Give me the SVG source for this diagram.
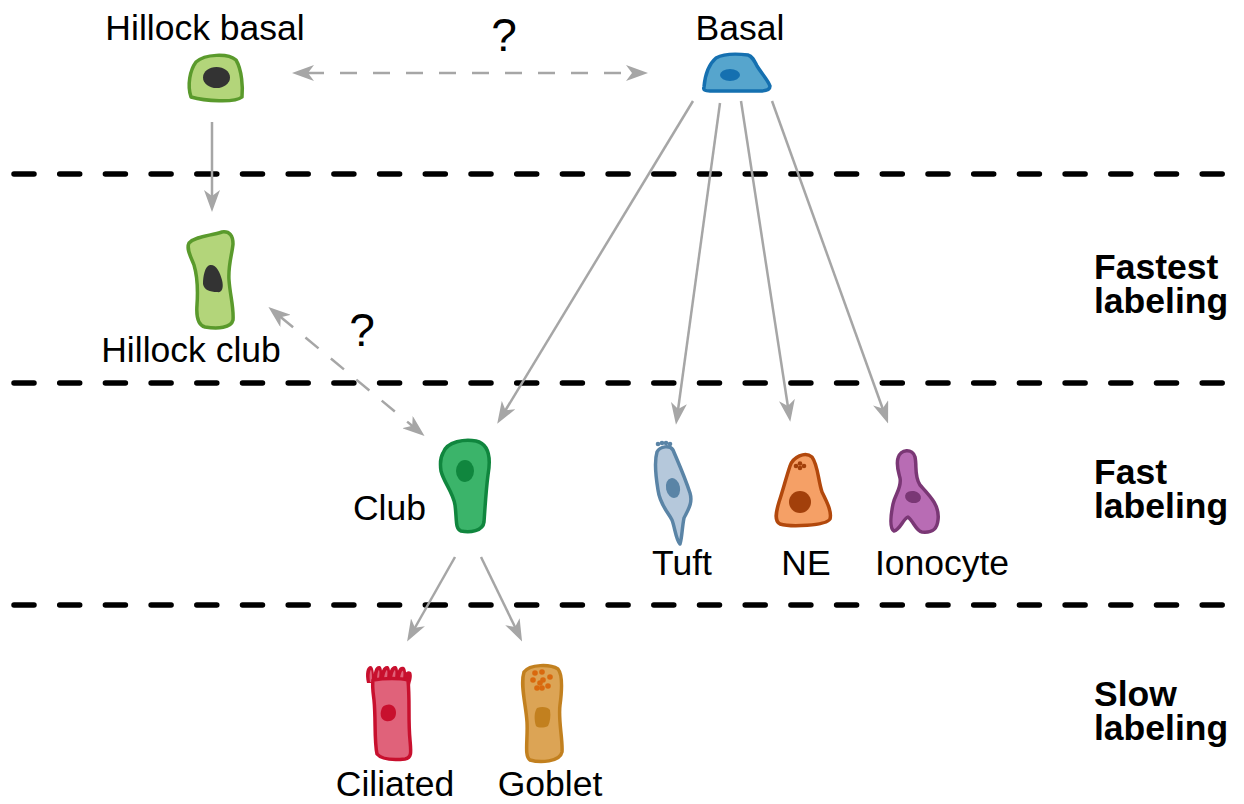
<svg xmlns="http://www.w3.org/2000/svg" width="1244" height="804" viewBox="0 0 1244 804">
  <defs>
    <marker id="head" viewBox="0 0 22 16" refX="7" refY="8" markerWidth="22" markerHeight="16" markerUnits="userSpaceOnUse" orient="auto-start-reverse">
      <path d="M0,0 L22,8 L0,16 L6,8 Z" fill="#a6a6a6"/>
    </marker>
  </defs>
  <style>
    text { font-family: "Liberation Sans", Arial, Helvetica, sans-serif; fill: #000; }
    .lbl { font-size: 35.5px; text-anchor: middle; }
    .q { font-size: 46px; text-anchor: middle; }
    .band { font-size: 35.5px; font-weight: bold; }
    .sep { stroke: #000; stroke-width: 5.5; stroke-linecap: round; stroke-dasharray: 20 25.7; fill: none; }
    .arr { stroke: #a6a6a6; stroke-width: 2.5; fill: none; marker-end: url(#head); }
    .arr2 { stroke: #a6a6a6; stroke-width: 2.5; fill: none; stroke-dasharray: 17 16; marker-start: url(#head); marker-end: url(#head); }
    .cell { stroke-width: 3.5; stroke-linejoin: round; }
  </style>

  <!-- band separators -->
  <g id="separators">
    <line class="sep" x1="14" y1="174" x2="1235" y2="174"/>
    <line class="sep" x1="14" y1="383" x2="1235" y2="383"/>
    <line class="sep" x1="14" y1="605" x2="1235" y2="605"/>
  </g>

  <!-- band labels -->
  <g id="band-labels">
    <text class="band" x="1094" y="279"><tspan x="1094">Fastest</tspan><tspan x="1094" dy="34">labeling</tspan></text>
    <text class="band" x="1094" y="484"><tspan x="1094">Fast</tspan><tspan x="1094" dy="34">labeling</tspan></text>
    <text class="band" x="1094" y="706"><tspan x="1094">Slow</tspan><tspan x="1094" dy="34">labeling</tspan></text>
  </g>

  <!-- lineage connectors -->
  <g id="connectors">
    <line class="arr" x1="212" y1="122" x2="212" y2="197"/>
    <line class="arr2" x1="307" y1="73" x2="633" y2="73"/>
    <line class="arr2" x1="280" y1="316.5" x2="413" y2="426.5"/>
    <line class="arr" x1="693" y1="101" x2="505" y2="411"/>
    <line class="arr" x1="720" y1="103" x2="678" y2="410"/>
    <line class="arr" x1="741" y1="101" x2="788" y2="407"/>
    <line class="arr" x1="772" y1="101" x2="883" y2="409.5"/>
    <line class="arr" x1="455" y1="557" x2="414.5" y2="628.5"/>
    <line class="arr" x1="481" y1="557" x2="515.5" y2="628"/>
    <text class="q" x="504" y="51">?</text>
    <text class="q" x="362" y="346">?</text>
  </g>

  <g id="hillock-basal">
    <path class="cell" d="M196,62 C205,54 228,53 236,60 C242,70 243,88 242,97 C235,103 205,101 191,97 C187,85 190,70 196,62 Z" fill="#b3d57a" stroke="#5a9a2c"/>
    <ellipse cx="216.5" cy="77.5" rx="13.5" ry="10.5" fill="#333"/>
    <text class="lbl" x="205" y="40">Hillock basal</text>
  </g>

  <g id="basal">
    <path class="cell" d="M704,87 C705,75 709,64 716,58 C725,53 740,54 748,55 C752,56 754,60 757,66 C762,74 768,80 770,86 C770,90 766,91 760,91 L710,91 C705,91 703,90 704,87 Z" fill="#56a5cd" stroke="#1570b0"/>
    <ellipse cx="730" cy="75" rx="10" ry="6" fill="#1570b0"/>
    <text class="lbl" x="740" y="40">Basal</text>
  </g>

  <g id="hillock-club">
    <path class="cell" d="M189,243 C196,236 210,236 222,232 C230,231 233,236 233,244 C232,255 228,265 229,280 C230,295 234,308 233,320 C231,328 218,329 205,327 C198,325 196,318 197,305 C198,290 197,275 194,265 C191,257 186,249 189,243 Z" fill="#b3d57a" stroke="#5a9a2c"/>
    <path d="M210,265 C216,264 220,272 222,280 C224,288 222,293 217,292 C210,292 204,290 203,284 C203,276 205,266 210,265 Z" fill="#333"/>
    <text class="lbl" x="191" y="362">Hillock club</text>
  </g>

  <g id="club">
    <path class="cell" d="M443,453 C447,441 465,439 476,441 C489,444 491,458 488,475 C486,490 485,508 484,522 C483,531 470,533 461,531 C455,529 457,520 455,505 C453,492 444,483 441,471 C440,464 440,458 443,453 Z" fill="#3bb46a" stroke="#10863e"/>
    <ellipse cx="465" cy="471" rx="9" ry="11" fill="#10863e"/>
    <text class="lbl" x="426" y="520" style="text-anchor:end">Club</text>
  </g>

  <g id="tuft">
    <g fill="#5a84a6">
      <circle cx="658" cy="444" r="2.3"/>
      <circle cx="662" cy="443" r="2.3"/>
      <circle cx="666" cy="443" r="2.3"/>
      <circle cx="670" cy="444" r="2.3"/>
    </g>
    <path class="cell" d="M657,452 C660,446 670,445 673,450 C678,462 684,475 690,493 C693,503 688,510 684,518 C682,528 682,538 680,544 C676,540 675,528 672,520 C668,512 660,505 658,490 C656,478 654,462 657,452 Z" fill="#b5c8db" stroke="#5a84a6"/>
    <ellipse cx="673" cy="488" rx="7" ry="10" fill="#5a84a6" transform="rotate(-12 673 488)"/>
    <text class="lbl" x="682" y="575">Tuft</text>
  </g>

  <g id="ne">
    <path class="cell" d="M790,466 C793,457 805,451 812,457 C818,465 818,480 822,492 C827,502 832,512 830,519 C826,526 790,527 780,524 C774,521 776,512 779,502 C783,490 786,478 790,466 Z" fill="#f5a066" stroke="#b2480c"/>
    <circle cx="800" cy="502" r="11" fill="#a2400b"/>
    <g fill="#a2400b">
      <circle cx="796" cy="466" r="2.3"/>
      <circle cx="800" cy="463.5" r="2.3"/>
      <circle cx="804" cy="466" r="2.3"/>
      <circle cx="800" cy="468" r="2.3"/>
    </g>
    <text class="lbl" x="806" y="575">NE</text>
  </g>

  <g id="ionocyte">
    <path class="cell" d="M898,458 C900,449 913,448 915,457 C917,466 914,476 920,485 C929,495 940,505 938,520 C937,530 932,533 922,532 C916,531 914,522 908,517 C903,519 900,530 894,531 C889,528 891,514 893,504 C895,494 902,488 900,478 C898,470 896,465 898,458 Z" fill="#b86cb4" stroke="#7a3775"/>
    <ellipse cx="913" cy="497" rx="8" ry="6" fill="#7a3775" transform="rotate(10 913 497)"/>
    <text class="lbl" x="942" y="575">Ionocyte</text>
  </g>

  <g id="ciliated">
    <g fill="#c8102e">
      <path d="M367,683 C365,674 366,666 371,666 C374,667 374,676 375,683 Z"/>
      <path d="M374,681 C373,672 375,665 380,666 C383,668 382,676 382,681 Z"/>
      <path d="M381,681 C380,672 383,665 388,666 C391,668 390,676 390,681 Z"/>
      <path d="M389,681 C388,672 391,665 396,666 C399,668 398,676 398,681 Z"/>
      <path d="M397,681 C396,672 399,665 404,667 C407,669 406,677 406,682 Z"/>
      <path d="M403,683 C403,674 407,669 411,672 C413,676 411,681 410,685 Z"/>
    </g>
    <g fill="#e0627a">
      <path d="M370,682 C369,676 370,670 371,670 C372,671 372,677 372,682 Z"/>
      <path d="M377,681 C377,675 378,670 379,670 C380,672 379,677 379,681 Z"/>
      <path d="M384,681 C384,675 386,670 387,670 C388,672 387,677 387,681 Z"/>
      <path d="M392,681 C392,675 394,670 395,670 C396,672 395,677 395,681 Z"/>
      <path d="M400,681 C400,675 402,670 403,671 C404,673 403,678 403,681 Z"/>
    </g>
    <path class="cell" d="M373,680 C385,678 400,678 408,680 C410,700 408,720 410,740 C411,752 412,758 405,759 C395,760 382,760 377,754 C374,740 376,720 374,700 C373,692 372,686 373,680 Z" fill="#e0627a" stroke="#c8102e"/>
    <path d="M386,705 C392,703 396,707 396,713 C396,719 391,722 386,721 C381,720 380,715 381,711 C382,707 383,706 386,705 Z" fill="#c8102e"/>
    <text class="lbl" x="395" y="796">Ciliated</text>
  </g>

  <g id="goblet">
    <path class="cell" d="M524,672 C530,664 550,664 558,669 C563,675 562,690 560,705 C558,720 563,740 562,752 C560,762 540,763 530,760 C524,756 528,740 527,722 C526,705 520,685 524,672 Z" fill="#dca455" stroke="#c2801f"/>
    <g fill="#d9690e">
      <circle cx="535" cy="673" r="2.8"/>
      <circle cx="542" cy="672" r="2.8"/>
      <circle cx="533" cy="680" r="2.8"/>
      <circle cx="543" cy="680" r="2.8"/>
      <circle cx="550" cy="677" r="2.8"/>
      <circle cx="537" cy="688" r="2.8"/>
      <circle cx="542" cy="688" r="2.8"/>
      <circle cx="548" cy="686" r="2.8"/>
      <circle cx="540" cy="683" r="2.8"/>
    </g>
    <path d="M537,708 C542,706 548,707 550,710 C551,716 550,722 548,726 C544,728 538,728 536,726 C534,720 534,712 537,708 Z" fill="#c2801f"/>
    <text class="lbl" x="550" y="796">Goblet</text>
  </g>
</svg>
